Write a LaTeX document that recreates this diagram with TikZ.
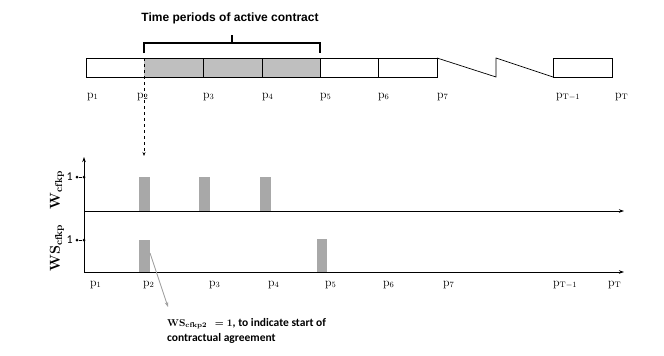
\documentclass[tikz,border=0pt]{standalone}
\usepackage[no-math]{fontspec}
\setmainfont{Carlito}
\newfontfamily\headfont{Liberation Sans}
\usetikzlibrary{positioning,arrows.meta}
\definecolor{barfill}{RGB}{191,191,191}
\definecolor{pulsefill}{RGB}{168,168,168}
\definecolor{notegrey}{RGB}{160,160,160}
\tikzset{
  cell/.style={draw=black, line width=0.7pt},
  brace/.style={line width=1.3pt},
  plbl/.style={anchor=base west, inner sep=0pt, font=\fontsize{12}{14}\selectfont},
  pulse/.style={fill=pulsefill, draw=none},
  axis/.style={-{Stealth[length=5pt,width=3.5pt]}, line width=1pt},
  tickdot/.style={circle, fill=black, inner sep=0pt, minimum size=3pt},
  ylbl/.style={rotate=90, inner sep=0pt, font=\fontsize{14}{16}\selectfont},
  title/.style={font=\headfont\bfseries\fontsize{12}{14}\selectfont, inner sep=0pt},
  note/.style={font=\bfseries\fontsize{11.5}{15}\selectfont, align=left,
               anchor=north west, inner sep=0pt},
  pointer/.style={-{Stealth[length=5pt,width=3.5pt]}, color=notegrey, line width=0.8pt},
  onelbl/.style={inner sep=1pt, font=\fontsize{12}{14}\selectfont},
}

\begin{document}
\begin{tikzpicture}[x=1pt,y=-1pt]
\useasboundingbox (0,0) rectangle (664,356);
% time line of periods
\fill[barfill] (144,58) rectangle (320,77);
\draw[cell] (86,58) rectangle (437,77);
\foreach \x in {203,262,320,378} \draw[cell] (\x,58) -- (\x,77);
\draw[cell] (437,58) -- (496,77) -- (496,58) -- (553,77);
\draw[cell] (553,58) rectangle (612,77);
% bracket over the active contract
\draw[brace] (144,53) -- (144,43) -- (320,43) -- (320,53);
\draw[brace] (232,43) -- (232,35);
\node[title] (head) at (230,18) {Time periods of active contract};
\foreach \x/\n/\s in {87/1/1, 137/2/2, 203/3/3, 262/4/4, 320/5/5, 378/6/6,
                      437/7/7, 556/Tm/T-1, 615/T/T}
  \node[plbl] (top\n) at (\x,98) {$\mathrm{p}_{\mathrm{\s}}$};
\coordinate (cut) at (144,58);
\coordinate (cutend) at (144,156);
\draw[dashed, line width=0.8pt, -{Stealth[length=4pt,width=3pt]}] (cut) -- (cutend);

% indicator axes
\coordinate (orig) at (84,272);
\coordinate (ytop) at (84,157);
\coordinate (mid) at (84,211);
\coordinate (xup) at (624,211);
\coordinate (xlow) at (624,272);
\foreach \x in {139,199,260} \fill[pulse] (\x,177) rectangle +(11,34);
\fill[pulse] (139,240) rectangle +(11,32);
\fill[pulse] (317,239) rectangle +(10,33);
\draw[axis] (orig) -- (ytop);
\draw[axis] (mid) -- (xup);
\draw[axis] (orig) -- (xlow);
\node[tickdot] (wone) at (84,177) {};
\node[tickdot] (wonel) at (77,177) {};
\draw[line width=0.8pt] (wonel) -- (wone);
\node[onelbl, left=1.5pt of wonel] (wnum) {1};
\node[tickdot] (sone) at (84,240) {};
\node[tickdot] (sonel) at (77,240) {};
\draw[line width=0.8pt] (sonel) -- (sone);
\node[onelbl, left=1.5pt of sonel] (snum) {1};
\node[ylbl] (wlbl) at (57,190) {$\mathbf{W}_{\mathbf{cfkp}}$};
\node[ylbl] (slbl) at (57,248) {$\mathbf{WS}_{\mathbf{cfkp}}$};
\foreach \x/\n/\s in {90/1/1, 143/2/2, 209/3/3, 268/4/4, 325/5/5, 383/6/6,
                      443/7/7, 553/Tm/T-1, 608/T/T}
  \node[plbl] (bot\n) at (\x,286) {$\mathrm{p}_{\mathrm{\s}}$};

% note on the start of the contract
\coordinate (pstart) at (150,253);
\coordinate (ptip) at (168,307);
\draw[pointer] (pstart) -- (ptip);
\node[note] (note) at (167,318) {{\fontsize{10}{12}\selectfont\boldmath$\mathbf{WS}_{\mathbf{cfkp2}}\ \ =\mathbf{1}$}, to indicate start of\\contractual agreement};
\end{tikzpicture}
\end{document}
